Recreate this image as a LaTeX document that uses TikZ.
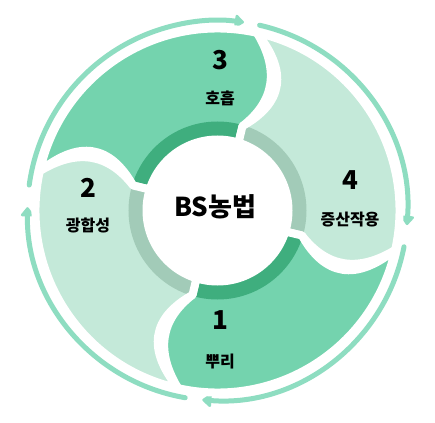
\documentclass[tikz,border=0pt]{standalone}
\usepackage{fontspec}
\newfontfamily\kr{Noto Sans CJK KR}
\usetikzlibrary{arrows.meta,calc}
\definecolor{segdark}{HTML}{74D3AE}
\definecolor{rimdark}{HTML}{3FAE7E}
\definecolor{seglight}{HTML}{C4E9D9}
\definecolor{rimlight}{HTML}{A2CBB8}
\definecolor{ringcol}{HTML}{8EDDC1}
\newcommand\segshape[2]{%
 (#1:182) arc[start angle=#1, end angle=#2, radius=182]
 .. controls ($(#2:182)!0.333!({#2-4}:88)+({#2-90}:28)$) and ($(#2:182)!0.667!({#2-4}:88)+({#2-90}:28)$) .. ({#2-4}:88)
 -- ({#2-5}:66) arc[start angle={#2-5}, end angle={#1-5}, radius=66]
 -- ({#1-4}:88) .. controls ($(#1:182)!0.667!({#1-4}:88)+({#1-90}:37)$) and ($(#1:182)!0.333!({#1-4}:88)+({#1-90}:37)$) .. (#1:182) -- cycle}
\newcommand\segment[4]{% tail, head, body colour, rim colour
 \fill[#3] \segshape{#1}{#2};
 \begin{scope}
  \clip \segshape{#1}{#2};
  \fill[#4] (0,0) circle[radius=89];
 \end{scope}
 \draw[gapline] \segshape{#1}{#2};
}
\begin{document}
\begin{tikzpicture}[x=1pt,y=1pt,
  gapline/.style={white,line width=8pt,line join=round},
  ringarrow/.style={ringcol,line width=5pt,line cap=round,-{Triangle[width=15pt,length=10pt,round]}},
  numtext/.style={font=\kr\bfseries\fontsize{26}{26}\selectfont,text=black,inner sep=0pt},
  labtext/.style={font=\kr\bfseries\fontsize{16}{16}\selectfont,text=black,inner sep=0pt},
  centertext/.style={font=\kr\bfseries\fontsize{26}{26}\selectfont,text=black,inner sep=0pt}]
\useasboundingbox (-217.5,-211.5) rectangle (217.5,210.5);
\fill[white] (-217.5,-211.5) rectangle (217.5,210.5);
% outer cycle arrows
\draw[ringarrow] (172.3:190) arc[start angle=172.3, end angle=82, radius=190];
\draw[ringarrow] (77.2:190) arc[start angle=77.2, end angle=-4.4, radius=190];
\draw[ringarrow] (-11:190) arc[start angle=-11, end angle=-94.6, radius=190];
\draw[ringarrow] (-99.8:190) arc[start angle=-99.8, end angle=-181, radius=190];
% four segments
\segment{167.5}{77.5}{segdark}{rimdark}
\segment{77.5}{-12.5}{seglight}{rimlight}
\segment{-12.5}{-102.5}{segdark}{rimdark}
\segment{257.5}{167.5}{seglight}{rimlight}
% centre disc
\fill[white] (0,0) circle[radius=75];
\node[centertext] (c) at (-2.5,3.5) {BS농법};
\node[numtext] (n3) at (2.5,150.5) {3};
\node[labtext] (l3) at (2.5,112.5) {호흡};
\node[numtext] (n2) at (-129.5,22.5) {2};
\node[labtext] (l2) at (-129.5,-14.5) {광합성};
\node[numtext] (n4) at (132.5,30.5) {4};
\node[labtext] (l4) at (132.5,-9.5) {증산작용};
\node[numtext] (n1) at (2.5,-109.5) {1};
\node[labtext] (l1) at (2.5,-151.5) {뿌리};
\end{tikzpicture}
\end{document}
